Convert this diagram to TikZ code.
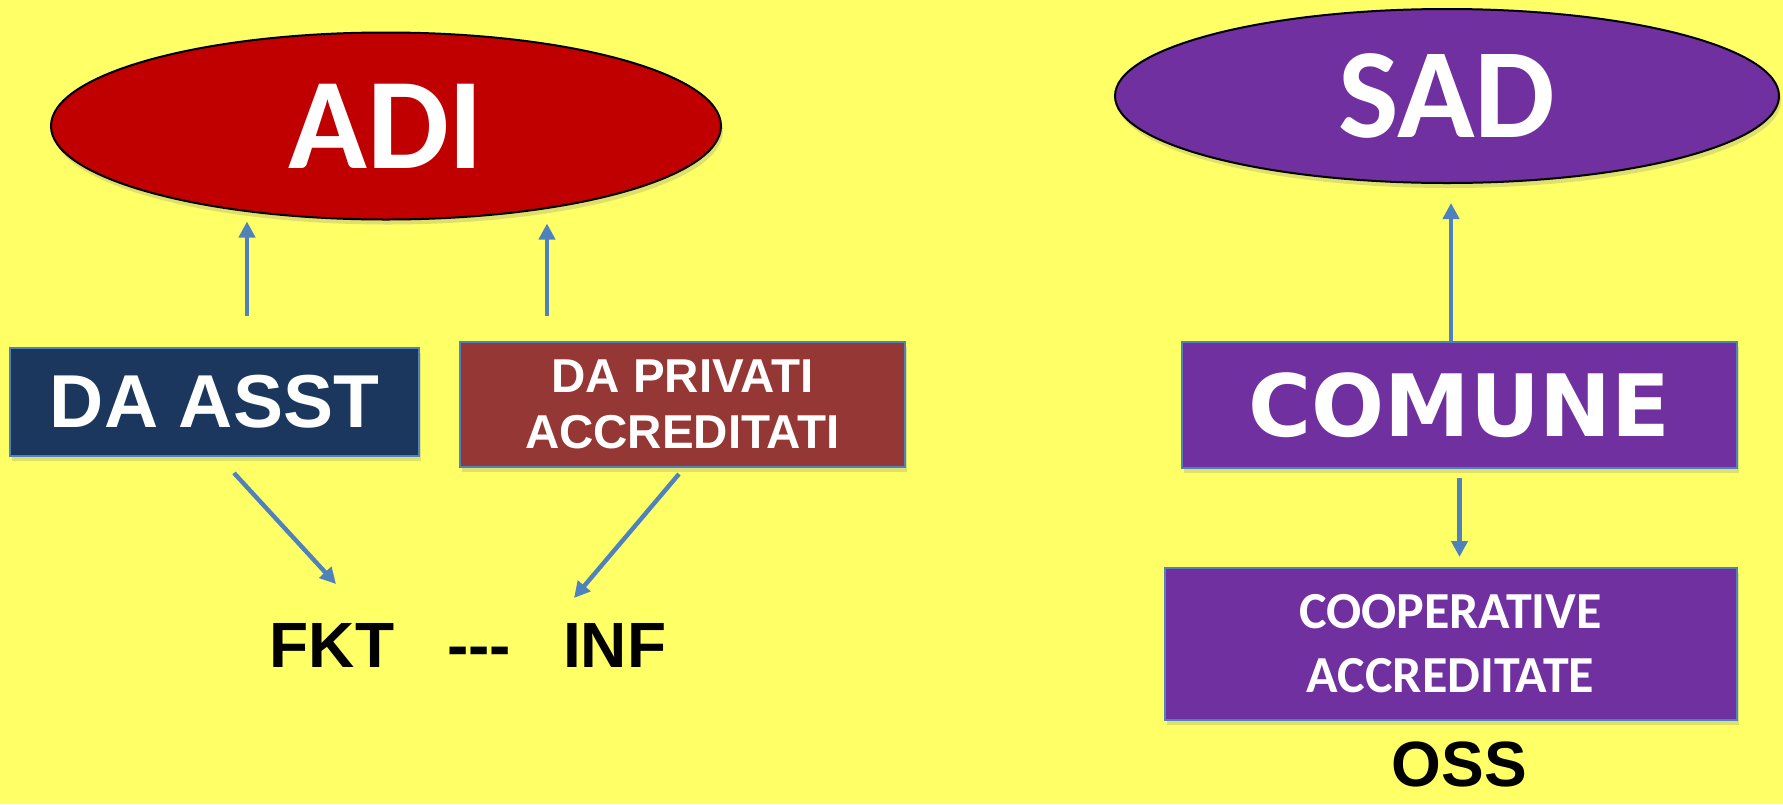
\documentclass[tikz,border=0pt]{standalone}
\usepackage{fontspec}
\setmainfont{Liberation Sans}
\newfontfamily\calibri{Carlito}
\newfontfamily\heavy{DejaVu Sans}
\usepackage{xcolor}
\definecolor{bgyellow}{HTML}{FFFF66}
\definecolor{adired}{HTML}{C00000}
\definecolor{sadpurple}{HTML}{7030A0}
\definecolor{asstblue}{HTML}{1C375E}
\definecolor{privred}{HTML}{953735}
\definecolor{lineblue}{HTML}{4F81BD}
\usepackage{tikz}
\usetikzlibrary{arrows.meta, positioning, shapes.geometric, shadows}
\tikzset{
    oval/.style={
        ellipse, draw=black, line width=1pt,
        text=white, inner sep=0pt,
        drop shadow={shadow xshift=1pt, shadow yshift=-2.5pt, opacity=0.25}
    },
    box/.style={
        rectangle, draw=lineblue, line width=1pt,
        text=white, inner sep=0pt, align=center,
        drop shadow={shadow xshift=1pt, shadow yshift=-2.5pt, opacity=0.25}
    },
    conn/.style={
        draw=lineblue, line width=2.2pt,
        -{Triangle[length=8pt, width=8pt]},
    },
}

\begin{document}
\begin{tikzpicture}[x=0.5pt, y=-0.5pt]
        \fill[bgyellow] (0,0) rectangle (1783,804);
        \useasboundingbox (0,0) rectangle (1783,804);

        % ADI side
        \node[oval, fill=adired, minimum width=335pt, minimum height=93.5pt,
            font=\calibri\bfseries\fontsize{65}{78}\selectfont] (adi) at (386,126) {ADI};
        \node[box, fill=asstblue, minimum width=204.5pt, minimum height=54pt,
            font=\bfseries\fontsize{37.5}{45}\selectfont] (asst) at (214.5,402) {DA ASST};
        \node[box, fill=privred, minimum width=222.5pt, minimum height=62.5pt,
            font=\bfseries\fontsize{23.75}{28}\selectfont] (priv) at (682.5,404.5) {DA PRIVATI\\ACCREDITATI};
        \node[anchor=base, font=\bfseries\fontsize{32}{38}\selectfont] (fkt) at (468,667)
            {FKT\hspace{26.5pt}-\kern0pt-\kern0pt-\hspace{26pt}INF};
        \coordinate (fktin) at (336,584);
        \coordinate (infin) at (574,598);

        % SAD side
        \node[oval, fill=sadpurple, minimum width=332pt, minimum height=87pt,
            font=\calibri\bfseries\fontsize{64}{77}\selectfont] (sad) at (1447,96) {SAD};
        \node[box, fill=sadpurple, minimum width=277.5pt, minimum height=63pt,
            font=\heavy\bfseries\fontsize{43}{52}\selectfont] (comune) at (1459.5,405) {COMUNE};
        \node[box, fill=sadpurple, minimum width=286pt, minimum height=76pt,
            font=\calibri\bfseries\fontsize{26}{32}\selectfont] (coop) at (1450.5,644) {COOPERATIVE\\ACCREDITATE};
        \node[anchor=base, inner sep=0pt, font=\bfseries\fontsize{32}{38}\selectfont] (oss) at (1459.5,786) {OSS};

        \draw[conn, shorten <=15.5pt, shorten >=0.5pt] ([xshift=16.25pt]asst.north) -- ([xshift=16.25pt]asst.north |- adi.south);
        \draw[conn, shorten <=12.5pt, shorten >=1.5pt] ([xshift=-67.75pt]priv.north) -- ([xshift=-67.75pt]priv.north |- adi.south);
        \draw[conn] ([xshift=9.75pt, yshift=-8pt]asst.south) -- (fktin);
        \draw[conn] ([xshift=-1.75pt, yshift=-3pt]priv.south) -- (infin);

        \draw[conn, shorten >=9.5pt] ([xshift=-4.25pt]comune.north) -- ([xshift=-4.25pt]comune.north |- sad.south);
        \draw[conn, shorten <=4.5pt, shorten >=5pt] (comune.south) -- (comune.south |- coop.north);
    \end{tikzpicture}
\end{document}
